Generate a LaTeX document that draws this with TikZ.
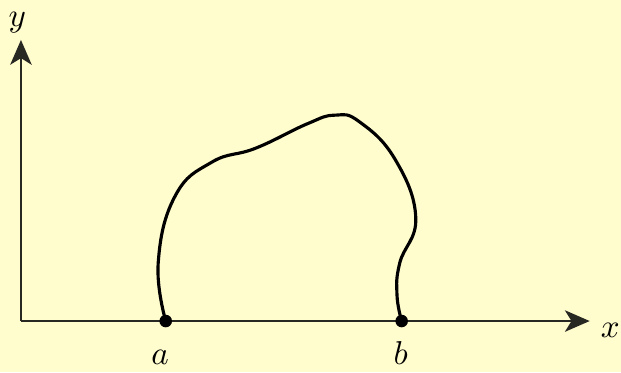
\documentclass[tikz,border=0pt]{standalone}
\usepackage{amsmath,amssymb}
\usetikzlibrary{arrows.meta,positioning}
\definecolor{bgyellow}{RGB}{255,252,205}
\definecolor{axgray}{RGB}{40,40,35}
\tikzset{
  axarr/.style={-{Stealth[length=7.5pt,width=6.5pt,inset=2pt]}, axgray, line width=0.6pt},
  crv/.style={black, line width=0.95pt},
  pt/.style={circle, fill=black, inner sep=0pt, minimum size=3.8pt},
  lbl/.style={inner sep=1pt, text height=1.6ex, text depth=0.2ex},
}

\begin{document}
\begin{tikzpicture}
    \fill[bgyellow] (-0.223,-0.543) rectangle (6.383,3.415);
    \useasboundingbox (-0.223,-0.543) rectangle (6.383,3.415);
    \coordinate (O) at (0,0);
    \coordinate (xend) at (6.05,0);
    \coordinate (yend) at (0,2.99);
    \draw[axarr] (O) -- (xend);
    \draw[axarr] (O) -- (yend);
    \node[lbl, anchor=base] (xlab) at (6.27,-0.17) {$x$};
    \node[lbl, anchor=base] (ylab) at (-0.04,3.13) {$y$};
    \node[pt] (a) at (1.54,0) {};
    \node[pt] (b) at (4.05,0) {};
    \node[lbl, anchor=base] (alab) at (1.48,-0.46) {$a$};
    \node[lbl, anchor=base] (blab) at (4.04,-0.46) {$b$};
    \draw[crv] plot[smooth, tension=0.75] coordinates {
      (a.center) (1.46,0.62) (1.64,1.33) (2.03,1.69)
      (2.50,1.84) (3.05,2.10) (3.34,2.19) (3.60,2.12)
      (3.98,1.72) (4.20,1.10) (4.03,0.62)
      (4.00,0.28) (b.center)};
\end{tikzpicture}
\end{document}
